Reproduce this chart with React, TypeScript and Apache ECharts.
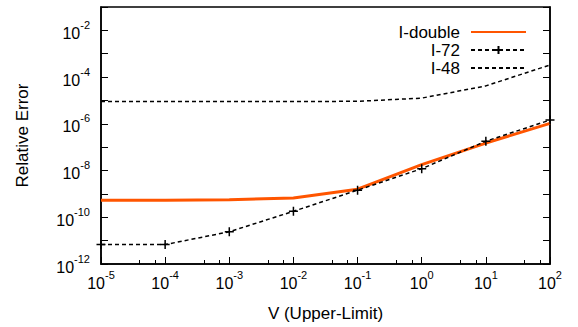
import React, { useEffect, useRef } from "react";
import * as echarts from "echarts";

const xValues = [1e-5, 1e-4, 1e-3, 1e-2, 1e-1, 1e0, 1e1, 1e2];
const iDouble = [5.4e-10, 5.4e-10, 5.6e-10, 6.7e-10, 1.6e-9, 1.8e-8, 1.5e-7, 1.05e-6];
const i72 = [6.8e-12, 6.8e-12, 2.4e-11, 1.8e-10, 1.45e-9, 1.2e-8, 1.8e-7, 1.45e-6];
const i48 = [9e-6, 9e-6, 9e-6, 9e-6, 9.2e-6, 1.26e-5, 4.2e-5, 3.3e-4];
const seriesNames = ["I-double", "I-72", "I-48"];

const FONT = "Liberation Sans";

const pairs = (ys: number[]) => xValues.map((x, i) => [x, ys[i]]);

const supFormatter = (v: number) => `{b|10}{s|${Math.round(Math.log10(v))}}`;
const supFormatterEven = (v: number) => {
  const e = Math.round(Math.log10(v));
  return Math.abs(e) % 2 === 0 ? `{b|10}{s|${e}}` : "";
};
const rich = {
  b: { fontSize: 16, fontFamily: FONT, color: "#000", verticalAlign: "bottom", lineHeight: 22 },
  s: { fontSize: 11, fontFamily: FONT, color: "#000", verticalAlign: "top", lineHeight: 22 },
};

export default function App() {
  const ref = useRef<HTMLDivElement>(null);
  useEffect(() => {
    if (!ref.current) return;
    const chart = echarts.init(ref.current, null, { renderer: "svg" });
    chart.setOption({
      animation: false,
      backgroundColor: "#fff",
      textStyle: { fontFamily: FONT, color: "#000" },
      grid: {
        left: 101,
        right: 28,
        top: 7,
        bottom: 58,
        show: true,
        borderColor: "#000",
        borderWidth: 1.5,
      },
      legend: {
        orient: "vertical",
        right: 46,
        top: 18,
        align: "right",
        itemWidth: 55,
        itemHeight: 10,
        itemGap: 0,
        textStyle: { fontFamily: FONT, fontSize: 17, color: "#000", lineHeight: 18, padding: [0, 6, 0, 0] },
        data: [
          { name: seriesNames[0], itemStyle: { opacity: 0 } },
          { name: seriesNames[1] },
          { name: seriesNames[2], itemStyle: { opacity: 0 } },
        ],
      },
      xAxis: {
        type: "log",
        min: 1e-5,
        max: 1e2,
        interval: 1,
        name: "V (Upper-Limit)",
        nameLocation: "middle",
        nameGap: 41,
        nameTextStyle: { fontFamily: FONT, fontSize: 17, color: "#000" },
        axisLine: { lineStyle: { color: "#000", width: 1.5 } },
        axisTick: { inside: true, length: 7, lineStyle: { color: "#000", width: 1 } },
        minorTick: { show: true, splitNumber: 3, length: 4, lineStyle: { color: "#000", width: 1 } },
        splitLine: { show: false },
        axisLabel: { formatter: supFormatter, rich, margin: 5 },
      },
      yAxis: [
        {
          type: "log",
          min: 1e-12,
          max: 1e-1,
          interval: 1,
          name: "Relative Error",
          nameLocation: "middle",
          nameGap: 70,
          nameTextStyle: { fontFamily: FONT, fontSize: 17, color: "#000" },
          axisLine: { show: true, lineStyle: { color: "#000", width: 1.5 } },
          axisTick: { show: true, inside: true, length: 7, lineStyle: { color: "#000", width: 1 } },
          splitLine: { show: false },
          axisLabel: { formatter: supFormatterEven, rich, margin: 11 },
        },
        {
          type: "log",
          min: 1e-12,
          max: 1e-1,
          interval: 1,
          position: "right",
          axisLine: { show: true, lineStyle: { color: "#000", width: 1.5 } },
          axisTick: { show: true, inside: true, length: 7, lineStyle: { color: "#000", width: 1 } },
          splitLine: { show: false },
          axisLabel: { show: false },
        },
      ],
      series: [
        {
          name: seriesNames[0],
          type: "line",
          data: pairs(iDouble),
          symbol: "none",
          lineStyle: { color: "#ff5500", width: 3 },
          itemStyle: { color: "#ff5500" },
          z: 3,
        },
        {
          name: seriesNames[1],
          type: "line",
          data: pairs(i72),
          symbol: "path://M0,5L10,5M5,0L5,10",
          symbolSize: 9,
          lineStyle: { color: "#000", width: 1.5, type: [4, 3] },
          itemStyle: { color: "#000", borderColor: "#000", borderWidth: 1.5 },
          z: 4,
        },
        {
          name: seriesNames[2],
          type: "line",
          data: pairs(i48),
          symbol: "none",
          lineStyle: { color: "#000", width: 1.5, type: [4, 3] },
          itemStyle: { color: "#000" },
        },
      ],
    });
    return () => chart.dispose();
  }, []);
  return <div ref={ref} style={{ width: 578, height: 327, position: "absolute", left: 0, top: 0 }} />;
}
